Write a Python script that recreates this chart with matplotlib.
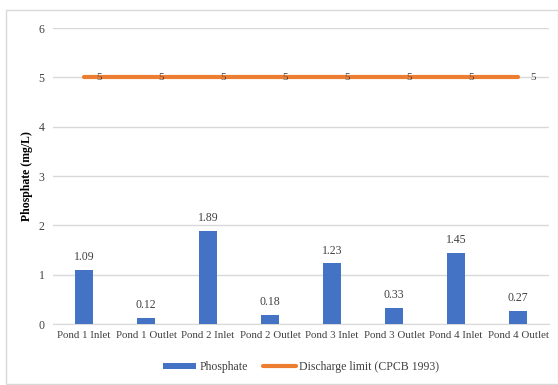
import matplotlib.pyplot as plt
from matplotlib.patches import Rectangle

# Data
categories = ["Pond 1 Inlet", "Pond 1 Outlet", "Pond 2 Inlet", "Pond 2 Outlet",
              "Pond 3 Inlet", "Pond 3 Outlet", "Pond 4 Inlet", "Pond 4 Outlet"]
phosphate = [1.09, 0.12, 1.89, 0.18, 1.23, 0.33, 1.45, 0.27]
discharge_limit = [5, 5, 5, 5, 5, 5, 5, 5]

plt.rcParams["font.family"] = ["Liberation Serif", "DejaVu Serif"]

fig = plt.figure(figsize=(5.58, 3.85), dpi=100)
ax = fig.add_axes([0.095, 0.158, 0.889, 0.769])

x = list(range(len(categories)))

# Bars for phosphate
bars = ax.bar(x, phosphate, width=0.29, color="#4472C4", label="Phosphate", zorder=3)
for xi, v in zip(x, phosphate):
    ax.annotate(f"{v:.2f}", (xi, v), xytext=(0, 5), textcoords="offset points",
                ha="center", va="bottom", fontsize=8.5, color="#404040")

# Discharge limit line
line, = ax.plot(x, discharge_limit, color="#ED7D31", linewidth=3, solid_capstyle="round",
                label="Discharge limit (CPCB 1993)", zorder=4)
for xi, v in zip(x, discharge_limit):
    ax.annotate(f"{v}", (xi, v), xytext=(11, 0), textcoords="offset points",
                ha="center", va="center", fontsize=8, color="#404040", zorder=5)

ax.set_xlim(-0.5, len(categories) - 0.5)
ax.set_ylim(0, 6)
ax.set_yticks(range(0, 7))
ax.set_xticks(x)
ax.set_xticklabels(categories)
ax.tick_params(axis="both", length=0, labelsize=8.5, labelcolor="#404040")
ax.tick_params(axis="x", labelsize=7.8, pad=5)
ax.tick_params(axis="y", pad=6)
ax.grid(axis="y", color="#D9D9D9", linewidth=1, zorder=0)
for side in ["top", "right", "left"]:
    ax.spines[side].set_visible(False)
ax.spines["bottom"].set_color("#D9D9D9")
ax.set_ylabel("Phosphate (mg/L)", fontsize=8.5, fontweight="bold", labelpad=4)

ax.legend(handles=[bars, line], loc="center", bbox_to_anchor=(0.5, -0.145), ncol=2,
          frameon=False, fontsize=8.5, handlelength=2.8, handleheight=0.5,
          columnspacing=1.3, handletextpad=0.3, labelcolor="#404040")

# Chart frame
fig.patches.append(Rectangle((6 / 558, 0.002), 0.99, 1 - 10 / 385 - 0.002,
                             transform=fig.transFigure, fill=False,
                             edgecolor="#D9D9D9", linewidth=1))

fig.savefig("out.png", dpi=100)
